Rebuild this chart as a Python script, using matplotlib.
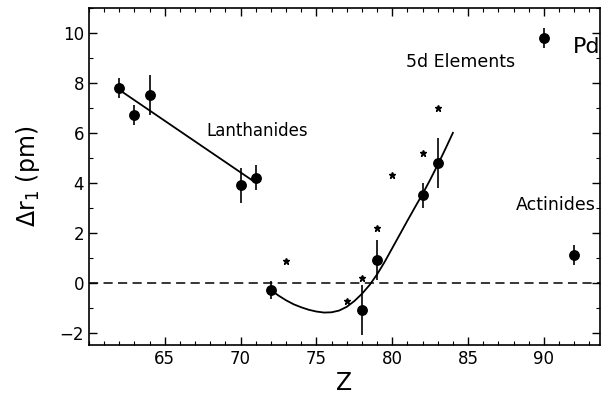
import matplotlib
matplotlib.use("Agg")
import matplotlib.pyplot as plt
from matplotlib.ticker import MultipleLocator, FixedLocator

plt.rcParams['font.family'] = ['DejaVu Sans']
plt.rcParams['mathtext.fontset'] = 'dejavusans'

# Lanthanides (filled circles with error bars)
lan_z = [62, 63, 64, 70, 71]
lan_y = [7.8, 6.7, 7.5, 3.9, 4.2]
lan_err = [0.4, 0.4, 0.8, 0.7, 0.5]
lan_fit_z = [62, 71]
lan_fit_y = [7.72, 4.0]

# 5d elements (filled circles with error bars)
d5_z = [72, 78, 79, 82, 83]
d5_y = [-0.3, -1.1, 0.9, 3.5, 4.8]
d5_err = [0.35, 1.0, 0.8, 0.5, 1.0]

# 5d elements small star points
star_z = [73, 77, 78, 79, 80, 82, 83]
star_y = [0.85, -0.75, 0.2, 2.2, 4.3, 5.2, 7.0]

# 5d fit curve
fit_z = [72, 72.5, 73, 73.5, 74, 74.5, 75, 75.5, 76, 76.5, 77, 77.5, 78,
         78.5, 79, 79.5, 80, 80.5, 81, 81.5, 82, 82.5, 83, 83.5, 84]
fit_y = [-0.3, -0.52, -0.71, -0.87, -0.99, -1.09, -1.16, -1.2, -1.19, -1.12,
         -0.97, -0.74, -0.45, -0.1, 0.33, 0.83, 1.38, 1.93, 2.48, 3.02, 3.55,
         4.12, 4.72, 5.35, 6.0]

# Pd and Actinides
pd_z, pd_y, pd_err = [90], [9.8], [0.4]
act_z, act_y, act_err = [92], [1.1], [0.4]

x_ticks = [65, 70, 75, 80, 85, 90]

fig = plt.figure(figsize=(6.15, 4.0), dpi=100)
ax = fig.add_axes([0.1447, 0.1375, 0.8309, 0.8425])

ax.axhline(0, color='black', lw=1.1, ls=(0, (6, 3.5)))

eb = dict(fmt='o', color='black', ms=6.8, elinewidth=1.2, capsize=0)
ax.errorbar(lan_z, lan_y, yerr=lan_err, **eb)
ax.errorbar(d5_z, d5_y, yerr=d5_err, **eb)
ax.errorbar(pd_z, pd_y, yerr=pd_err, **eb)
ax.errorbar(act_z, act_y, yerr=act_err, **eb)
ax.plot(lan_fit_z, lan_fit_y, color='black', lw=1.3)
ax.plot(fit_z, fit_y, color='black', lw=1.3)
ax.plot(star_z, star_y, ls='none', marker='*', color='black', ms=4.5)

ax.text(71.1, 6.08, 'Lanthanides', fontsize=12, ha='center', va='center')
ax.text(84.5, 8.84, '5d Elements', fontsize=12.5, ha='center', va='center')
ax.text(90.8, 3.12, 'Actinides', fontsize=12.5, ha='center', va='center')
ax.text(92.8, 9.45, 'Pd', fontsize=16, ha='center', va='center')

ax.set_xlim(60, 93.7)
ax.set_ylim(-2.5, 11)
ax.xaxis.set_major_locator(FixedLocator(x_ticks))
ax.xaxis.set_minor_locator(MultipleLocator(1))
ax.yaxis.set_major_locator(MultipleLocator(2))
ax.yaxis.set_minor_locator(MultipleLocator(1))
ax.tick_params(which='both', direction='in', top=True, right=True, labelsize=12)
ax.tick_params(which='major', length=6, width=1)
ax.tick_params(which='minor', length=3, width=0.8)
for s in ax.spines.values():
    s.set_linewidth(1.2)

ax.set_xlabel('Z', fontsize=17, labelpad=2)
ax.set_ylabel(r'$\Delta$r$_1$ (pm)', fontsize=17, labelpad=13)

fig.savefig('out.png', dpi=100)
